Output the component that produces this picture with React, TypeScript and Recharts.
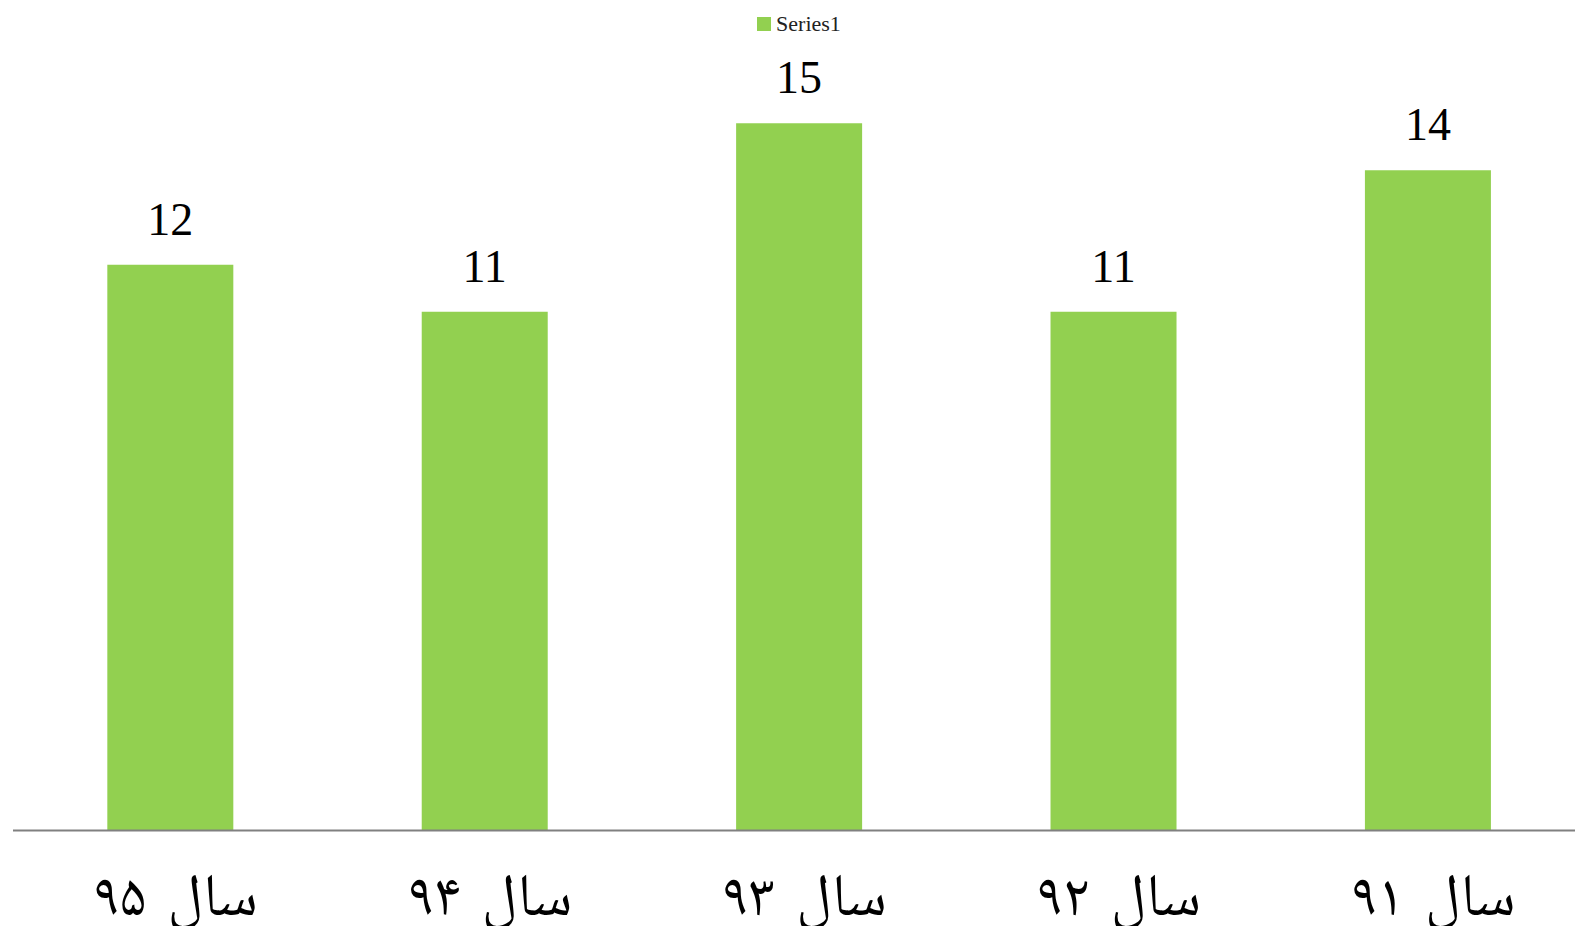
import React from "react";
import { BarChart, Bar, XAxis, YAxis, Legend, LabelList } from "recharts";

const categories = ["سال ۹۱", "سال ۹۲", "سال ۹۳", "سال ۹۴", "سال ۹۵"];
const series1 = [14, 11, 15, 11, 12];
const seriesName = "Series1";

const data = categories.map((c, i) => ({ name: c, value: series1[i] }));

const GREEN = "#92D050";
const SERIF = "'Liberation Serif', 'Times New Roman', 'Noto Naskh Arabic', 'DejaVu Sans', serif";

const LegendContent = () => (
  <div
    style={{
      display: "flex",
      justifyContent: "center",
      alignItems: "center",
      height: 30,
      fontFamily: SERIF,
      fontSize: 22,
      color: "#222",
    }}
  >
    <span
      style={{
        display: "inline-block",
        width: 14,
        height: 14,
        background: GREEN,
        marginRight: 5,
      }}
    />
    <span>{seriesName}</span>
  </div>
);

const Tick = (props: any) => {
  const { x, y, payload } = props;
  return (
    <text
      x={x}
      y={y}
      dx={5}
      dy={78}
      textAnchor="middle"
      fontFamily={SERIF}
      fontSize={60}
      wordSpacing={6}
      fill="#000"
    >
      {payload.value}
    </text>
  );
};

export default function App() {
  return (
    <div
      style={{
        position: "absolute",
        left: 0,
        top: 0,
        width: 1575,
        height: 926,
        overflow: "hidden",
        background: "#fff",
      }}
    >
      <BarChart
        width={1590}
        height={926}
        data={data}
        margin={{ top: 46, right: 5, bottom: 0, left: 13 }}
        barCategoryGap="30%"
      >
        <Legend
          verticalAlign="top"
          align="center"
          height={30}
          content={<LegendContent />}
          wrapperStyle={{ top: 9, left: 13, width: 1572 }}
        />
        <YAxis hide domain={[0, 16]} />
        <XAxis
          dataKey="name"
          reversed
          height={95.5}
          tickLine={false}
          tickMargin={0}
          axisLine={{ stroke: "#808080", strokeWidth: 2 }}
          tick={<Tick />}
          interval={0}
        />
        <Bar dataKey="value" name={seriesName} fill={GREEN} isAnimationActive={false}>
          <LabelList
            dataKey="value"
            position="top"
            offset={30}
            fontFamily={SERIF}
            fontSize={46}
            fill="#000"
          />
        </Bar>
      </BarChart>
    </div>
  );
}
